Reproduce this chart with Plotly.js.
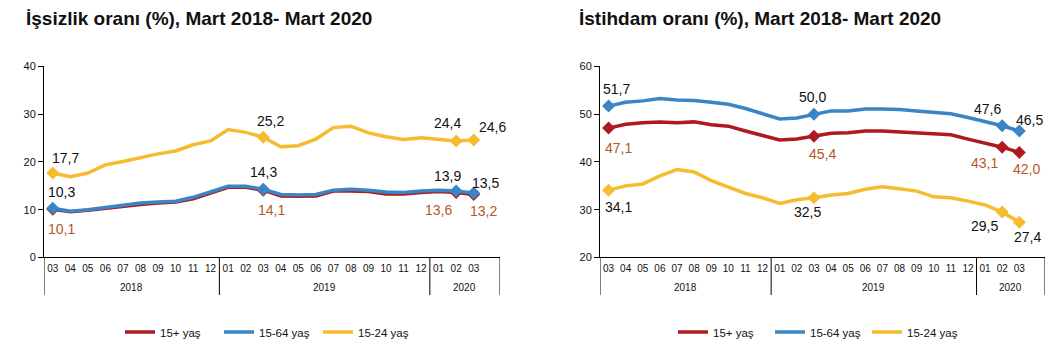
<!DOCTYPE html>
<html>
<head>
<meta charset="utf-8">
<script src="https://cdn.plot.ly/plotly-3.0.1.min.js"></script>
<style>html,body{margin:0;padding:0;background:#fff;}#chart{width:1055px;height:352px;}</style>
</head>
<body>
<div id="chart"></div>
<script>
// ---- Data ----
const years  = ["2018","2018","2018","2018","2018","2018","2018","2018","2018","2018",
                "2019","2019","2019","2019","2019","2019","2019","2019","2019","2019","2019","2019",
                "2020","2020","2020","2020"];
const months = ["03","04","05","06","07","08","09","10","11","12",
                "01","02","03","04","05","06","07","08","09","10","11","12",
                "01","02","03",""];
const seriesNames = ["15+ yaş","15-64 yaş","15-24 yaş"];

// İşsizlik oranı (%)
const unemp15plus  = [10.1,9.6,9.9,10.3,10.8,11.1,11.4,11.6,12.3,13.5,14.7,14.7,14.1,12.9,12.8,12.9,13.9,13.9,13.8,13.3,13.3,13.6,13.8,13.6,13.2];
const unemp15_64   = [10.3,9.7,10.0,10.5,11.0,11.4,11.6,11.8,12.6,13.7,14.9,14.9,14.3,13.2,13.1,13.2,14.1,14.3,14.1,13.7,13.6,13.9,14.1,13.9,13.5];
const unemp15_24   = [17.7,16.9,17.7,19.4,20.1,20.9,21.7,22.3,23.6,24.4,26.8,26.2,25.2,23.2,23.4,24.8,27.2,27.5,26.1,25.3,24.7,25.1,24.7,24.4,24.6];

// İstihdam oranı (%)
const emp15plus    = [47.1,47.9,48.2,48.4,48.2,48.4,47.8,47.5,46.5,45.5,44.6,44.8,45.4,46.0,46.1,46.5,46.5,46.3,46.1,45.9,45.7,44.8,43.9,43.1,42.0];
const emp15_64     = [51.7,52.5,52.8,53.3,53.0,52.9,52.5,52.1,51.2,50.1,49.0,49.2,50.0,50.7,50.7,51.1,51.1,51.0,50.7,50.4,50.1,49.3,48.5,47.6,46.5];
const emp15_24     = [34.1,35.0,35.4,37.1,38.4,37.9,36.1,34.7,33.4,32.5,31.3,32.1,32.5,33.1,33.4,34.3,34.8,34.4,33.9,32.7,32.5,31.8,31.0,29.5,27.4];

const markedIdx = [0,12,23,24];
const leftTitle = "İşsizlik oranı (%), Mart 2018- Mart 2020";
const rightTitle = "İstihdam oranı (%), Mart 2018- Mart 2020";

// ---- Styles ----
const colors = ["#AE1A1F","#3A85C6","#F5BC30"];
const labelColors = ["#B5562B","#111111","#111111"];
const FONT = "Liberation Sans, Arial, sans-serif";

// label offsets (px) for marked points: [series][markIndex] -> [dx, dy(up positive)]
const leftOffsets = [
  [[9,-20],[8,-20],[-18,-17],[10,-17]],
  [[9,16],[0,17],[-9,15],[12,10]],
  [[13,15],[7,16],[-9,18],[19,13]]
];
const rightOffsets = [
  [[10,-20],[9,-18],[-18,-16],[7,-17]],
  [[8,17],[-1,17],[-15,17],[10,11]],
  [[10,-17],[-6,-14],[-18,-14],[8,-15]]
];

const idx = months.map((_, i) => i);
const fmt = v => v.toFixed(1).replace(".", ",");

const traces = [];
const annotations = [];
const shapes = [];

// paper y for axis bottom and bottom of group lines
const yAxisBottom = 1 - 257/352;
const yDividerBottom = 1 - 295/352;
const yYearLabel = 1 - 287/352;

function addChart(series, xa, ya, legendId, offsets) {
  series.forEach((s, k) => {
    traces.push({
      type: "scatter", mode: "lines",
      x: idx.slice(0, s.length), y: s,
      xaxis: xa, yaxis: ya,
      name: seriesNames[k], legend: legendId,
      line: {color: colors[k], width: 3.5},
      hoverinfo: "skip"
    });
    traces.push({
      type: "scatter", mode: "markers",
      x: markedIdx, y: markedIdx.map(i => s[i]),
      xaxis: xa, yaxis: ya, showlegend: false,
      marker: {symbol: "diamond", size: 10, color: colors[k]},
      hoverinfo: "skip"
    });
    markedIdx.forEach((i, m) => {
      annotations.push({
        xref: xa, yref: ya, x: i, y: s[i],
        text: fmt(s[i]), showarrow: false,
        xshift: offsets[k][m][0], yshift: offsets[k][m][1],
        xanchor: "center", yanchor: "middle",
        font: {family: FONT, size: 14, color: labelColors[k]}
      });
    });
  });
  // year groups: dividers and labels
  const xref = xa;
  let start = 0;
  for (let i = 1; i <= years.length; i++) {
    if (i === years.length || years[i] !== years[start]) {
      annotations.push({
        xref: xref, yref: "paper", x: (start + i - 1) / 2, y: yYearLabel,
        text: years[start], showarrow: false, xanchor: "center", yanchor: "middle",
        font: {family: FONT, size: 10, color: "#111"}
      });
      shapes.push({type: "line", xref: xref, yref: "paper", x0: start - 0.5, x1: start - 0.5,
        y0: yAxisBottom, y1: yDividerBottom, line: {color: "#000", width: 1}});
      start = i;
    }
  }
  shapes.push({type: "line", xref: xref, yref: "paper", x0: years.length - 0.5, x1: years.length - 0.5,
    y0: yAxisBottom, y1: yDividerBottom, line: {color: "#000", width: 1}});
}

addChart([unemp15plus, unemp15_64, unemp15_24], "x", "y", "legend", leftOffsets);
addChart([emp15plus, emp15_64, emp15_24], "x2", "y2", "legend2", rightOffsets);

annotations.push({xref:"paper", yref:"paper", x: 24/1055, y: 1 - 19/352, xanchor:"left", yanchor:"middle",
  text: leftTitle, showarrow:false, font:{family:FONT, size:19, color:"#111", weight:"bold"}});
annotations.push({xref:"paper", yref:"paper", x: 577/1055, y: 1 - 19/352, xanchor:"left", yanchor:"middle",
  text: rightTitle, showarrow:false, font:{family:FONT, size:19, color:"#111", weight:"bold"}});

const xaxisBase = {
  range: [-0.5, years.length - 0.5],
  tickmode: "array", tickvals: idx, ticktext: months, tickangle: 0,
  showline: true, linecolor: "#000", linewidth: 1,
  ticks: "", showgrid: false, zeroline: false,
  tickfont: {family: FONT, size: 10, color: "#111"},
  ticklabelstandoff: 2,
  fixedrange: true
};
const yaxisBase = {
  showline: true, linecolor: "#000", linewidth: 1,
  ticks: "outside", ticklen: 5, tickcolor: "#000",
  showgrid: false, zeroline: false, dtick: 10,
  tickfont: {family: FONT, size: 11, color: "#111"},
  domain: [0.2685, 0.8111], fixedrange: true
};

const layout = {
  width: 1055, height: 352,
  margin: {l: 0, r: 0, t: 0, b: 0},
  paper_bgcolor: "#fff", plot_bgcolor: "#fff",
  font: {family: FONT},
  xaxis: Object.assign({}, xaxisBase, {domain: [44/1055, 500/1055], anchor: "y"}),
  yaxis: Object.assign({}, yaxisBase, {range: [0, 40], anchor: "x"}),
  xaxis2: Object.assign({}, xaxisBase, {domain: [600/1055, 1045/1055], anchor: "y2"}),
  yaxis2: Object.assign({}, yaxisBase, {range: [20, 60], anchor: "x2"}),
  legend: {orientation: "h", x: 120/1055, y: 1 - 332/352, xanchor: "left", yanchor: "middle",
           font: {family: FONT, size: 11.5, color: "#111"}, itemwidth: 30, entrywidth: 54,
           bgcolor: "rgba(0,0,0,0)"},
  legend2: {orientation: "h", x: 673/1055, y: 1 - 332/352, xanchor: "left", yanchor: "middle",
           font: {family: FONT, size: 11.5, color: "#111"}, itemwidth: 30, entrywidth: 52,
           bgcolor: "rgba(0,0,0,0)"},
  annotations: annotations,
  shapes: shapes,
  showlegend: true
};

Plotly.newPlot("chart", traces, layout, {staticPlot: true, displayModeBar: false});
</script>
</body>
</html>
